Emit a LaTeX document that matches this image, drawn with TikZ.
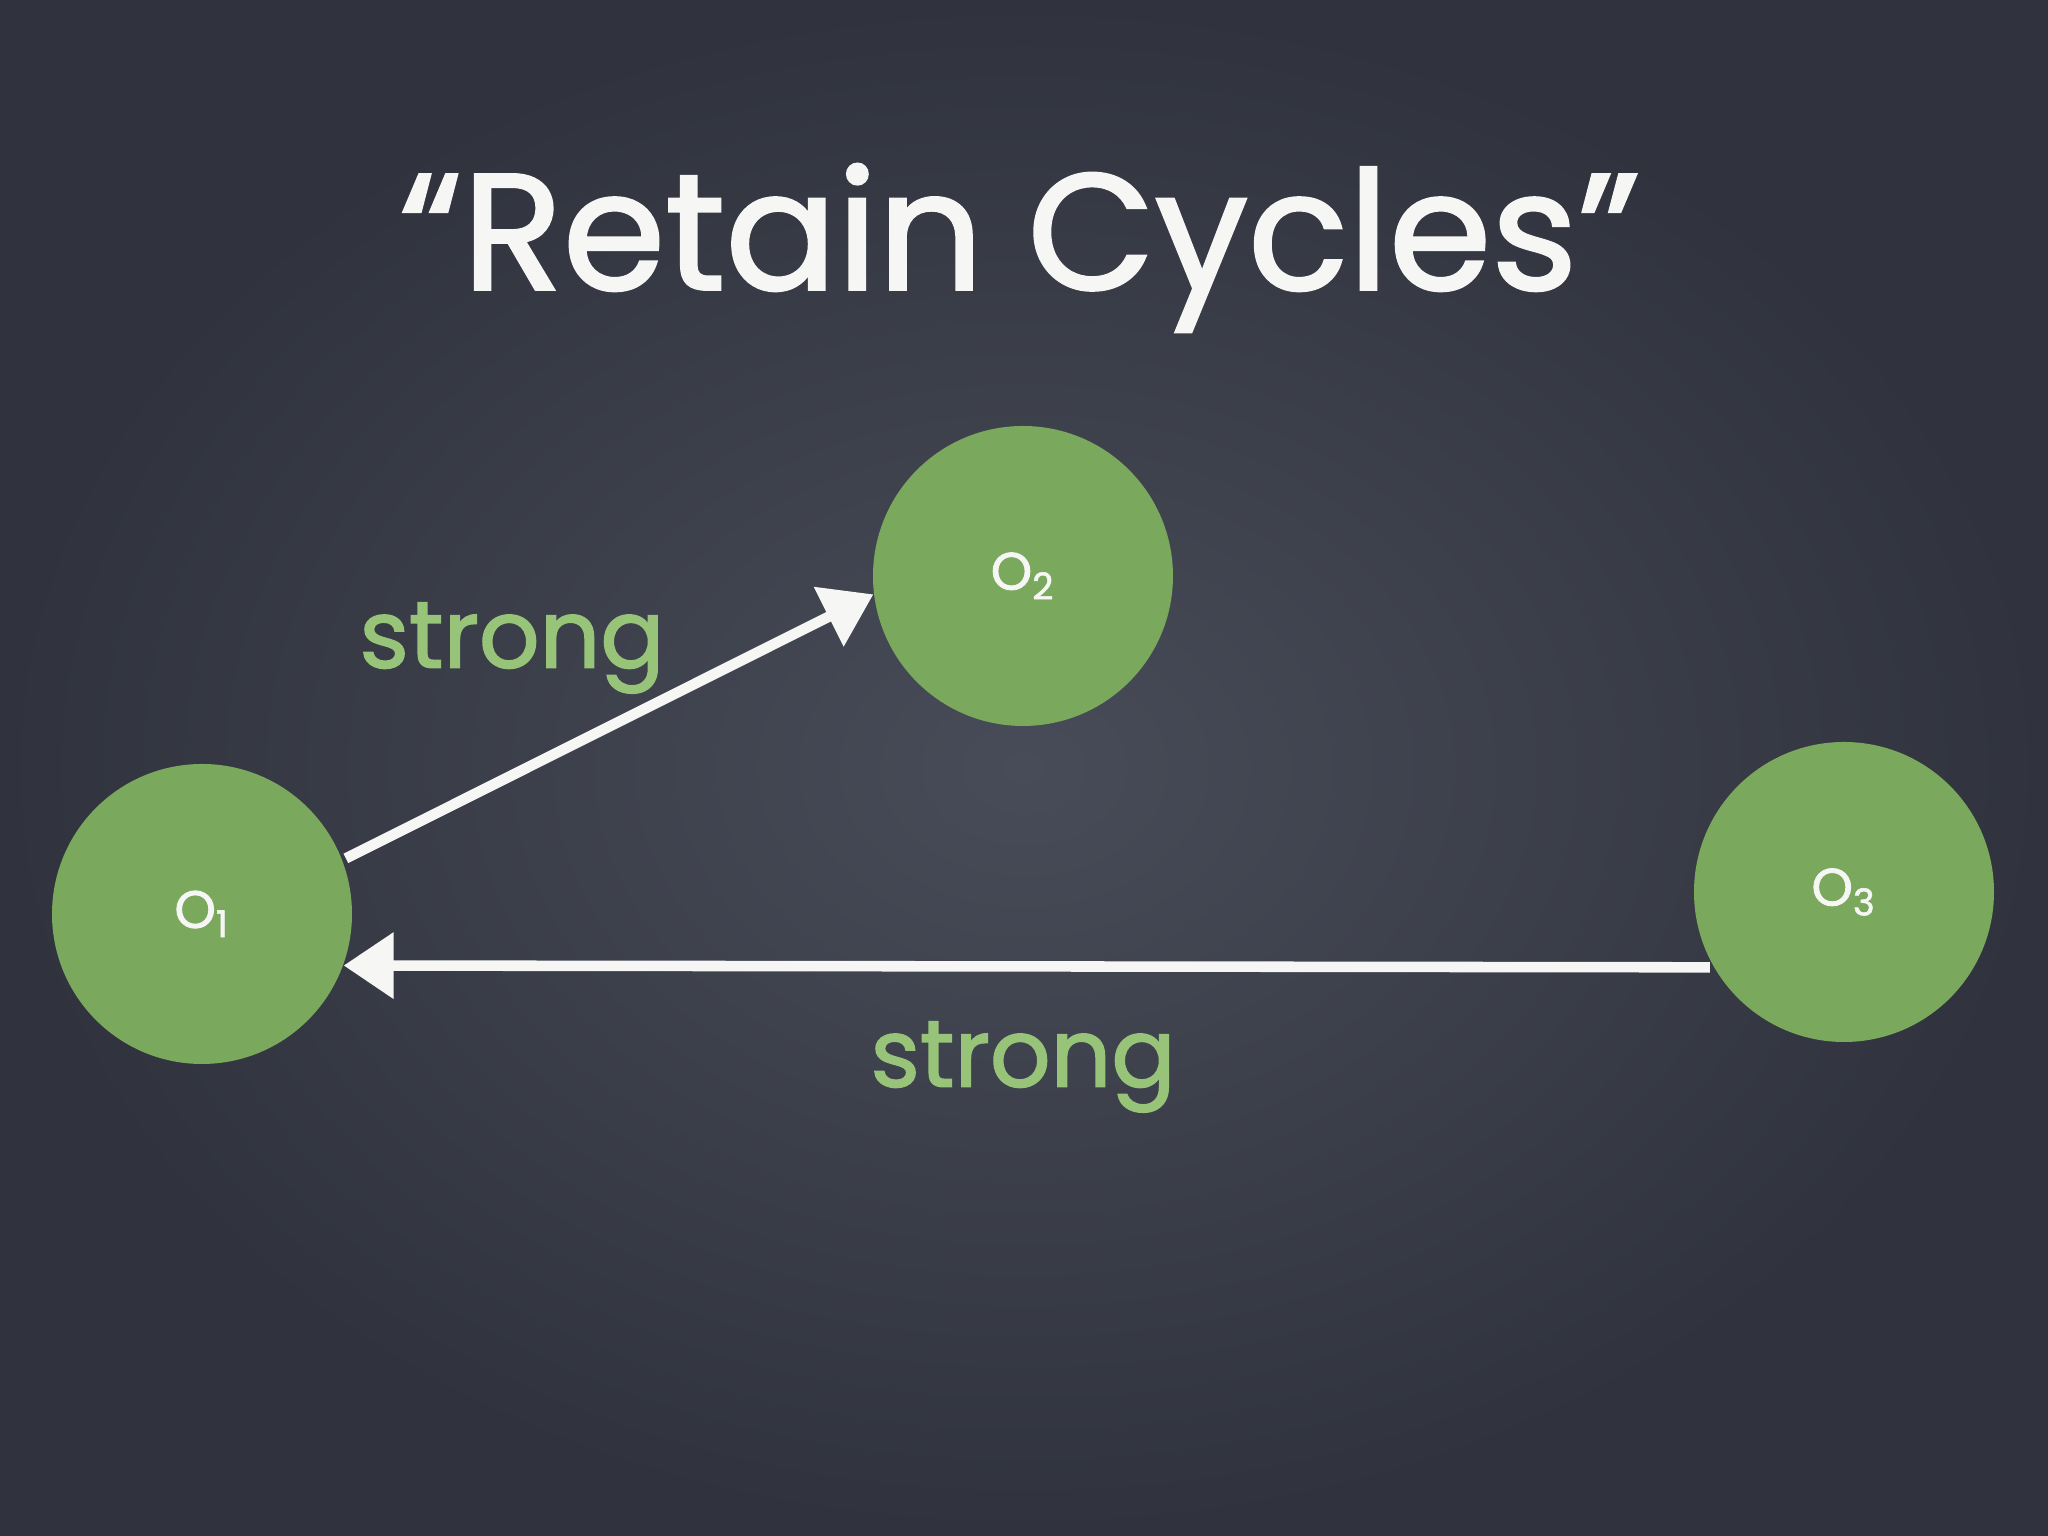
\documentclass[tikz,border=0pt]{standalone}
\usepackage{fontspec}
\setmainfont{Poppins}
\newfontfamily\chalkfont[FakeBold=1.6]{Poppins}
\usepackage{xcolor}
\definecolor{boardgray}{RGB}{72, 76, 88}
\definecolor{boarddark}{RGB}{48, 51, 61}
\definecolor{objgreen}{RGB}{122, 168, 92}
\definecolor{chalkgreen}{RGB}{152, 196, 122}
\definecolor{chalkwhite}{RGB}{246, 246, 244}
\usetikzlibrary{arrows.meta}
\tikzset{
    objnode/.style={circle, fill=objgreen, minimum size=3cm, inner sep=0pt, text=chalkwhite, font=\chalkfont\fontsize{15}{15}\selectfont},
    strongarrow/.style={-{Triangle[width=6.4mm, length=5mm]}, line width=3pt, chalkwhite, shorten <=1pt},
    reflabel/.style={text=chalkgreen, font=\chalkfont\fontsize{27}{27}\selectfont}
}

\begin{document}
\begin{tikzpicture}
    % Chalkboard
    \useasboundingbox (0, 0) rectangle (20.48, 15.36);
    \fill[boarddark] (0, 0) rectangle (20.48, 15.36);
    \shade[inner color=boardgray, outer color=boarddark] (0, 0) rectangle (20.48, 15.36);

    % Title
    \node[text=chalkwhite, font=\chalkfont\fontsize{47}{47}\selectfont] (title) at (10.2, 12.88) {“Retain Cycles”};

    % Objects
    \node[objnode] (o1) at (2.02, 6.22) {O\textsubscript{1}};
    \node[objnode] (o2) at (10.23, 9.60) {O\textsubscript{2}};
    \node[objnode] (o3) at (18.44, 6.44) {O\textsubscript{3}};

    % Strong references
    \draw[strongarrow] (o1.21) -- (o2.187);
    \draw[strongarrow] (o3.210) -- (o1.-20);
    \node[reflabel] (strong1) at (5.12, 8.88) {strong};
    \node[reflabel] (strong2) at (10.23, 4.69) {strong};
\end{tikzpicture}
\end{document}
